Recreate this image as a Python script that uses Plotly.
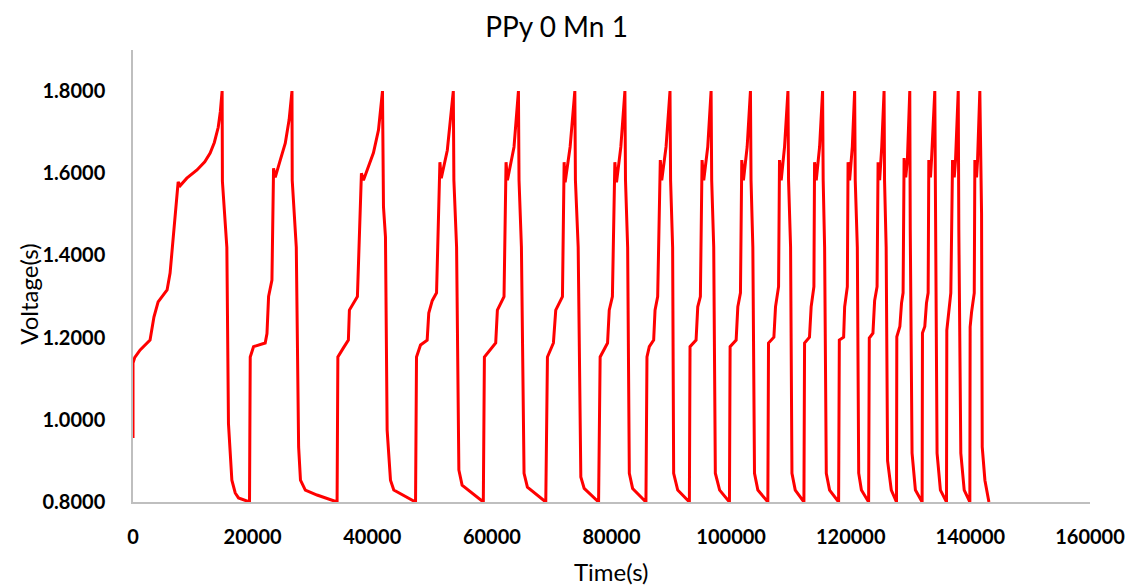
import plotly.graph_objects as go

# ---- data (time in s, voltage in V), one list per cycle ----
cycle_times = [
    [0, 0, 300, 1200, 2850, 3200, 3500, 4200, 5700, 6200, 6700, 7200, 7550, 7900, 9000, 10700, 12000, 12900, 13600,
     14250, 14600, 14900,
     14950, 15690, 15960, 16530, 17090, 17640, 19480],
    [19480, 19600, 20150, 22100, 22400, 22670, 23230, 23500, 23780, 24620, 25460, 26100, 26580,
     26620, 27300, 27690, 28000, 28810, 30770, 34120],
    [34120, 34250, 35180, 36010, 36180, 37520, 38190, 38530, 40200, 41040, 41710,
     41880, 42210, 42490, 43050, 43600, 47240],
    [47240, 47400, 48070, 49180, 49450, 50030, 50750, 51310, 51540, 52550, 53550,
     53650, 54100, 54480, 55020, 58570],
    [58570, 58750, 60640, 60920, 62030, 62370, 62600, 63700, 64440,
     64540, 64940, 65380, 65940, 69010],
    [69010, 69290, 70290, 70680, 71800, 72080, 72250, 73080, 73870,
     73970, 74430, 74870, 75430, 77840],
    [77840, 78100, 79340, 79620, 80150, 80560, 80840, 81560, 82240,
     82340, 82700, 82980, 83530, 85760],
    [85760, 85930, 86320, 87050, 87280, 87720, 88160, 88400, 89120, 89780,
     89880, 90220, 90390, 91070, 93020],
    [93020, 93130, 94140, 94420, 94860, 95140, 95420, 96090, 96650,
     96750, 97090, 97360, 98080, 99720],
    [99720, 99830, 100840, 101120, 101560, 101780, 102060, 102680, 103230,
     103330, 103630, 103910, 104470, 106140],
    [106140, 106250, 107150, 107420, 107930, 108090, 108370, 108930, 109500,
     109600, 109940, 110170, 110720, 112170],
    [112170, 112280, 113100, 113380, 113840, 113950, 114230, 114790, 115290,
     115390, 115630, 115910, 116460, 117970],
    [117970, 118090, 118810, 118980, 119430, 119550, 119810, 120260, 120650,
     120750, 121100, 121330, 121780, 122990],
    [122990, 123100, 123710, 123990, 124400, 124570, 124830, 125180, 125570,
     125650, 125920, 126160, 126780, 127650],
    [127650, 127700, 128210, 128490, 128750, 128920, 129190, 129470, 129870,
     129950, 130250, 130810, 131930],
    [131930, 131990, 132380, 132660, 132940, 133050, 133330, 133500, 134050,
     134150, 134430, 134990, 136010],
    [136010, 136060, 136450, 136730, 137020, 137300, 137520, 137970,
     138070, 138400, 138970, 139910],
    [139910, 139960, 140200, 140650, 140750, 141030, 141200, 141580,
     141870, 141980, 142430, 143100],
]

cycle_volts = [
    [0.956, 1.138, 1.152, 1.170, 1.194, 1.220, 1.250, 1.287, 1.316, 1.357, 1.437, 1.518, 1.579, 1.570, 1.588, 1.608,
     1.628, 1.649, 1.675, 1.712, 1.750, 1.800,
     1.580, 1.420, 0.991, 0.853, 0.822, 0.810, 0.800],
    [0.800, 1.153, 1.178, 1.187, 1.210, 1.300, 1.340, 1.612, 1.590, 1.632, 1.673, 1.730, 1.800,
     1.583, 1.420, 0.934, 0.853, 0.829, 0.817, 0.800],
    [0.800, 1.153, 1.175, 1.194, 1.267, 1.300, 1.600, 1.583, 1.650, 1.705, 1.800,
     1.518, 1.445, 0.975, 0.853, 0.829, 0.800],
    [0.800, 1.153, 1.182, 1.194, 1.260, 1.290, 1.309, 1.627, 1.588, 1.656, 1.800,
     1.583, 1.420, 0.878, 0.841, 0.800],
    [0.800, 1.153, 1.187, 1.267, 1.300, 1.627, 1.583, 1.664, 1.800,
     1.583, 1.420, 0.870, 0.836, 0.800],
    [0.800, 1.153, 1.187, 1.267, 1.300, 1.627, 1.578, 1.664, 1.800,
     1.583, 1.420, 0.861, 0.833, 0.800],
    [0.800, 1.153, 1.187, 1.267, 1.300, 1.627, 1.578, 1.664, 1.800,
     1.583, 1.420, 0.870, 0.833, 0.800],
    [0.800, 1.153, 1.178, 1.194, 1.267, 1.300, 1.632, 1.583, 1.664, 1.800,
     1.583, 1.420, 0.870, 0.829, 0.800],
    [0.800, 1.178, 1.194, 1.275, 1.300, 1.632, 1.583, 1.664, 1.800,
     1.583, 1.420, 0.870, 0.829, 0.800],
    [0.800, 1.178, 1.194, 1.275, 1.309, 1.632, 1.583, 1.664, 1.800,
     1.583, 1.420, 0.870, 0.829, 0.800],
    [0.800, 1.187, 1.201, 1.275, 1.324, 1.632, 1.583, 1.664, 1.800,
     1.583, 1.420, 0.870, 0.829, 0.800],
    [0.800, 1.187, 1.201, 1.275, 1.324, 1.627, 1.583, 1.664, 1.800,
     1.583, 1.420, 0.870, 0.829, 0.800],
    [0.800, 1.194, 1.201, 1.275, 1.324, 1.627, 1.583, 1.664, 1.800,
     1.583, 1.420, 0.870, 0.829, 0.800],
    [0.800, 1.199, 1.211, 1.290, 1.324, 1.627, 1.583, 1.664, 1.800,
     1.583, 1.420, 0.900, 0.829, 0.800],
    [0.800, 1.202, 1.227, 1.284, 1.309, 1.637, 1.590, 1.632, 1.800,
     1.462, 0.919, 0.829, 0.800],
    [0.800, 1.211, 1.227, 1.284, 1.309, 1.632, 1.590, 1.632, 1.800,
     1.462, 0.919, 0.829, 0.800],
    [0.800, 1.218, 1.267, 1.309, 1.632, 1.590, 1.632, 1.800,
     1.462, 0.919, 0.829, 0.800],
    [0.800, 1.226, 1.262, 1.309, 1.632, 1.590, 1.632, 1.800,
     1.503, 0.934, 0.853, 0.800],
]

x_tick_vals = [0, 20000, 40000, 60000, 80000, 100000, 120000, 140000, 160000]
y_tick_vals = [0.8, 1.0, 1.2, 1.4, 1.6, 1.8]

time_s = [t for c in cycle_times for t in c]
voltage_v = [v for c in cycle_volts for v in c]

fig = go.Figure()
fig.add_trace(go.Scatter(x=time_s, y=voltage_v, mode="lines",
                         line=dict(color="#FF0000", width=3), showlegend=False))

font_main = "Lato, 'Open Sans', sans-serif"
fig.update_layout(
    width=1130, height=585,
    margin=dict(l=133, r=40, t=50, b=83, autoexpand=False),
    paper_bgcolor="white", plot_bgcolor="white",
    title=dict(text="PPy 0 Mn 1", x=0.4925, xanchor="center", y=0.953, yanchor="middle",
               font=dict(family=font_main, size=28, color="#000000")),
    font=dict(family=font_main, color="#000000"),
)
fig.update_xaxes(
    range=[0, 160000], tickvals=x_tick_vals, ticktext=[str(v) for v in x_tick_vals],
    showgrid=False, zeroline=False, showline=True, linecolor="#BFBFBF", linewidth=1.5,
    ticks="", ticklabelstandoff=16, automargin=False,
    tickfont=dict(family=font_main, size=20, color="#000000", weight="bold"),
)
fig.update_yaxes(
    range=[0.8, 1.9], tickvals=y_tick_vals, ticktext=[f"{v:.4f}" for v in y_tick_vals],
    showgrid=False, zeroline=False, showline=True, linecolor="#BFBFBF", linewidth=1.5,
    ticks="", ticklabelstandoff=22, automargin=False,
    tickfont=dict(family=font_main, size=20, color="#000000", weight="bold"),
)
fig.add_annotation(text="Time(s)", xref="paper", yref="paper", x=0.5, y=-0.153,
                   xanchor="center", yanchor="middle", showarrow=False,
                   font=dict(family=font_main, size=24, color="#000000"))
fig.add_annotation(text="Voltage(s)", xref="paper", yref="paper", x=-0.11, y=0.46,
                   xanchor="center", yanchor="middle", textangle=-90, showarrow=False,
                   font=dict(family=font_main, size=24, color="#000000"))

fig.write_html("out.html")
